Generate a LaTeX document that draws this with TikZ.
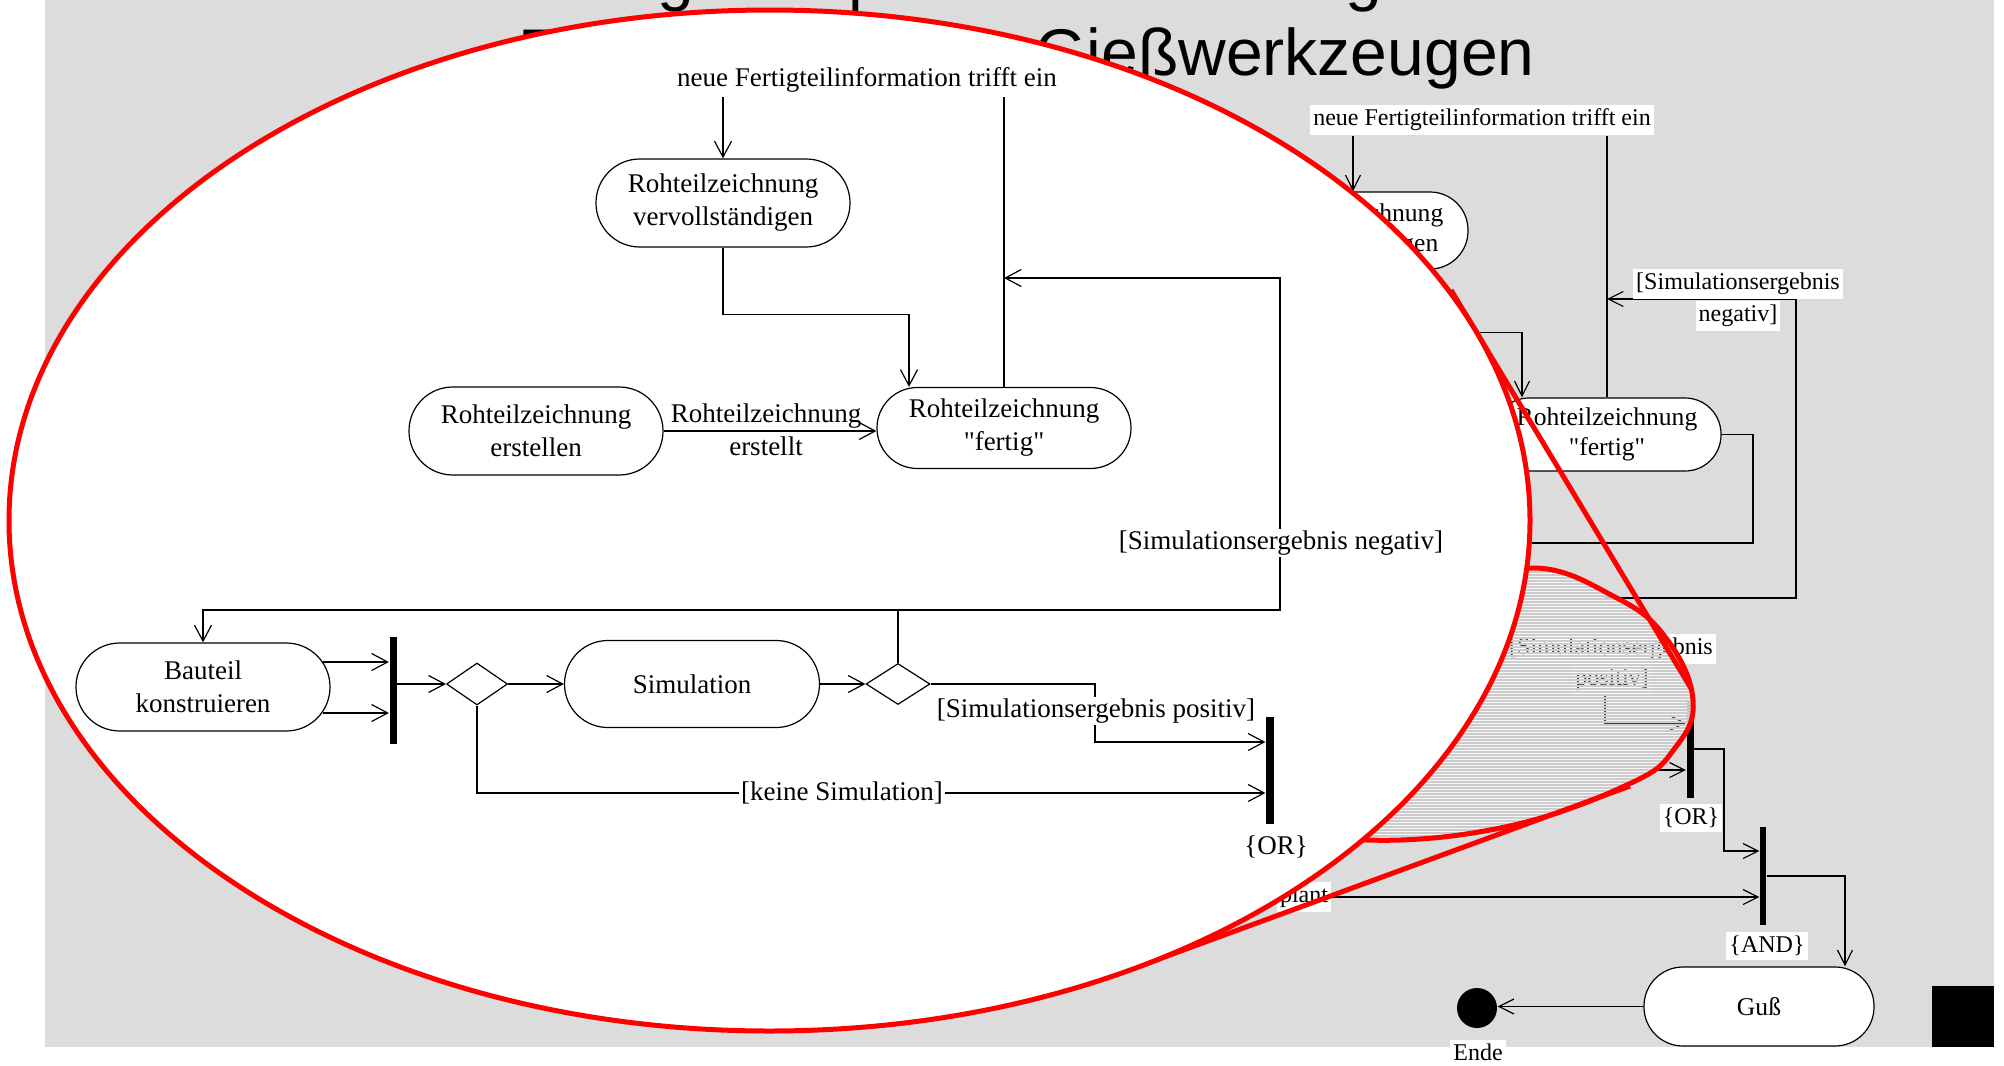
\documentclass[tikz,border=0pt]{standalone}
\usepackage{fontspec}
\setmainfont{Liberation Serif}
\newfontfamily\ttlfamily{Liberation Sans}
\usetikzlibrary{arrows.meta,shapes.geometric,calc}
\definecolor{slidegray}{RGB}{220,220,220}
\definecolor{lensred}{RGB}{255,0,0}
\newcommand\ellfont{\fontsize{13.5pt}{16.5pt}\selectfont}
\newcommand\bgdfont{\fontsize{12pt}{15pt}\selectfont}
\newcommand\bgnfont{\fontsize{12.8pt}{15pt}\selectfont}
\newcommand\ttlfont{\ttlfamily\fontsize{33pt}{38pt}\selectfont}
\newcommand\qq[1]{\textquotedbl#1\textquotedbl}

\begin{document}
\begin{tikzpicture}[x=0.5pt,y=-0.5pt,
  line width=0.6pt,
  earr/.style={-{Straight Barb[length=8pt,width=8.5pt]}},
  barr/.style={-{Straight Barb[length=7.5pt,width=7.5pt]}},
  eact/.style={draw, fill=white, rounded corners=21.9pt, minimum width=127pt,
    minimum height=44pt, inner sep=0pt, align=center, font=\ellfont},
  bact/.style={draw, fill=white, inner sep=0pt, align=center, font=\bgnfont},
  etxt/.style={inner sep=1pt, font=\ellfont, align=center},
  btxt/.style={fill=white, inner xsep=1.5pt, inner ysep=2pt, font=\bgdfont},
  syncbar/.style={fill=black, inner sep=0pt, minimum width=3.5pt},
  choice/.style={diamond, draw, fill=white, inner sep=0pt,
    minimum width=30.5pt, minimum height=21pt},
  lens/.style={draw=lensred, line width=2.5pt},
  ttl/.style={anchor=base west, inner sep=0pt, font=\ttlfont},
]
\useasboundingbox (0,0) rectangle (2004,1066);
\fill[white] (0,0) rectangle (2004,1066);
\fill[slidegray] (45,0) rectangle (1994,1047);
\fill[black] (1932,986) rectangle (1994,1047);

% slide title
\node[ttl] (t1) at (345,-2) {Anwendungsbeispiel: Aktivitätsdiagramm zur};
\node[ttl] (t2a) at (518,75) {Entwicklung von};
\node[ttl] (t2b) at (1035,75) {Gießwerkzeugen};

% ---------- activity diagram on the slide ----------
\node[btxt] (bstart) at (1482,120) {neue Fertigteilinformation trifft ein};
\node[bact, minimum width=115pt, minimum height=38.5pt, rounded corners=19pt]
  (bvv) at (1353,230.5) {Rohteilzeichnung\\vervollständigen};
\node[bact, minimum width=114pt, minimum height=36.5pt, rounded corners=18pt]
  (bfe) at (1607,434.5) {Rohteilzeichnung\\\qq{fertig}};

\draw[barr] (bvv.north |- bstart.south) -- (bvv.north);
\draw (bfe.north) -- (bfe.north |- bstart.south);
\draw[barr] (bvv.south) -- ++(0,63) -| ($(bfe.north)+(-85,0)$);
\draw (bfe.east) -| (1753,543) -- (1480,543);

\coordinate (bnegin) at (1796,299);
\draw[barr] (1605,598) -- (1796,598) -- (bnegin) -- (bnegin -| bfe.north);
\node[btxt] (bneg1) at (1738,284) {[Simulationsergebnis};
\node[btxt] (bneg2) at (1738,316) {negativ]};

\node[syncbar, minimum height=49pt] (bor) at (1690,749) {};
\coordinate (bkein) at (1638,770);
\draw[barr] (bkein) -- (bkein -| bor.west);
\node[btxt] (borl) at (1691,818) {\{OR\}};

\node[syncbar, minimum width=3pt, minimum height=49pt] (band) at (1763,876) {};
\coordinate (bandin) at (1724,851);
\draw[barr] (bor.east) -| (bandin) -- (bandin -| band.west);
\coordinate (bplantfrom) at (1250,897);
\draw[barr] (bplantfrom) -- (bplantfrom -| band.west);
\node[btxt] (bplant) at (1304,897) {plant};
\node[btxt] (bandl) at (1767,946) {\{AND\}};

\node[bact, minimum width=115pt, minimum height=39.5pt, rounded corners=19.5pt]
  (bguss) at (1759,1006.5) {Guß};
\coordinate (bgussin) at (1845,876);
\draw[barr] (band.east |- bgussin) -- (bgussin) -- (bgussin |- bguss.north);
\node[circle, fill=black, minimum size=20pt, inner sep=0pt] (bende) at (1477,1008) {};
\draw[barr] (bguss.west) -- (bguss.west -| bende.east);
\node[btxt] (bendel) at (1478,1052) {Ende};

% ---------- source region of the magnifier ----------
\begin{scope}
  \clip plot[smooth cycle, tension=0.7] coordinates {(1531,568) (1615,597)
    (1666,638) (1693,700) (1675,748) (1629,784) (1505,827) (1367,840)
    (1300,820) (1330,700) (1440,600)};
  \fill[white, opacity=0.65] (1200,500) rectangle (1750,900);
\end{scope}
% guard label seen through the lens region
\node[btxt] (bpos1) at (1611,649) {[Simulationsergebnis};
\node[btxt] (bpos2) at (1612,680) {positiv]};
\coordinate (bposin) at (1605,723);
\draw[barr] (bpos2.south -| bposin) -- (bposin) -- (bposin -| bor.west);
\begin{scope}
  \clip plot[smooth cycle, tension=0.7] coordinates {(1531,568) (1615,597)
    (1666,638) (1693,700) (1675,748) (1629,784) (1505,827) (1367,840)
    (1300,820) (1330,700) (1440,600)};
  \fill[white, opacity=0.25] (1200,500) rectangle (1750,900);
  \foreach \yy in {560,563,...,848}
    \draw[gray!40, line width=0.55pt] (1250,\yy) -- (1720,\yy);
\end{scope}
\draw[lens] plot[smooth cycle, tension=0.7] coordinates {(1531,568) (1615,597)
    (1666,638) (1693,700) (1675,748) (1629,784) (1505,827) (1367,840)
    (1300,820) (1330,700) (1440,600)};
\draw[lens] (1451,290) -- (1692,690);
\draw[lens] (1129,970) -- (1630,786);

% ---------- magnified view ----------
\draw[lens, fill=white] (769.5,520.5) ellipse [x radius=380.25pt, y radius=255.25pt];

\node[etxt] (estart) at (867,80) {neue Fertigteilinformation trifft ein};
\coordinate (etop) at (867,97);
\node[eact] (evv) at (723,203) {Rohteilzeichnung\\vervollständigen};
\node[eact] (eer) at (536,431) {Rohteilzeichnung\\erstellen};
\node[eact, minimum height=40.5pt, rounded corners=20.2pt] (efe) at (1004,428)
  {Rohteilzeichnung\\\qq{fertig}};
\node[eact] (ebk) at (203,687) {Bauteil\\konstruieren};
\node[eact, minimum width=127.5pt, minimum height=43.5pt, rounded corners=21.7pt]
  (esim) at (692,684) {Simulation};
\node[syncbar, minimum height=53.5pt] (efork) at (393,690.5) {};
\node[choice] (ed1) at (477,684) {};
\node[choice, minimum width=32pt, minimum height=20.5pt] (ed2) at (898,684) {};
\node[syncbar, minimum width=4pt, minimum height=53.5pt] (eor) at (1270,770.5) {};

\draw[earr] (evv.north |- etop) -- (evv.north);
\draw (efe.north) -- (efe.north |- etop);
\draw[earr] (evv.south) -- ++(0,67) -| ($(efe.north)+(-95,0)$);
\draw[earr] (eer.east) -- (eer.east -| efe.west);
\node[etxt] (eerl) at (766,430) {Rohteilzeichnung\\erstellt};

\coordinate (ejoin) at (898,610);
\coordinate (eback) at (1280,278);
\draw (ed2.north) -- (ejoin);
\draw[earr] (ejoin) -| (ebk.north);
\draw[earr] (ejoin) -| (eback) -- (eback -| efe.north);
\node[etxt, fill=white] (eneg) at (1281,543) {[Simulationsergebnis negativ]};

\coordinate (ebkA) at ($(ebk.east)+(-8,-25)$);
\coordinate (ebkB) at ($(ebk.east)+(-8,26)$);
\draw[earr] (ebkA) -- (ebkA -| efork.west);
\draw[earr] (ebkB) -- (ebkB -| efork.west);
\draw[earr] (efork.east |- ed1) -- (ed1.west);
\draw[earr] (ed1.east) -- (esim.west);
\draw[earr] (esim.east) -- (ed2.west);

\coordinate (ekeineY) at (842,793);
\draw[earr] (ed1.south) |- (ekeineY -| eor.west);
\node[etxt, fill=white] (ekeine) at (ekeineY) {[keine Simulation]};
\coordinate (eposturn) at (1095,742);
\draw[earr] (ed2.east) -| (eposturn) -- (eposturn -| eor.west);
\node[etxt, fill=white] (epos) at (1096,711) {[Simulationsergebnis positiv]};
\node[etxt] (eorl) at (1276,847) {\{OR\}};
\end{tikzpicture}
\end{document}
